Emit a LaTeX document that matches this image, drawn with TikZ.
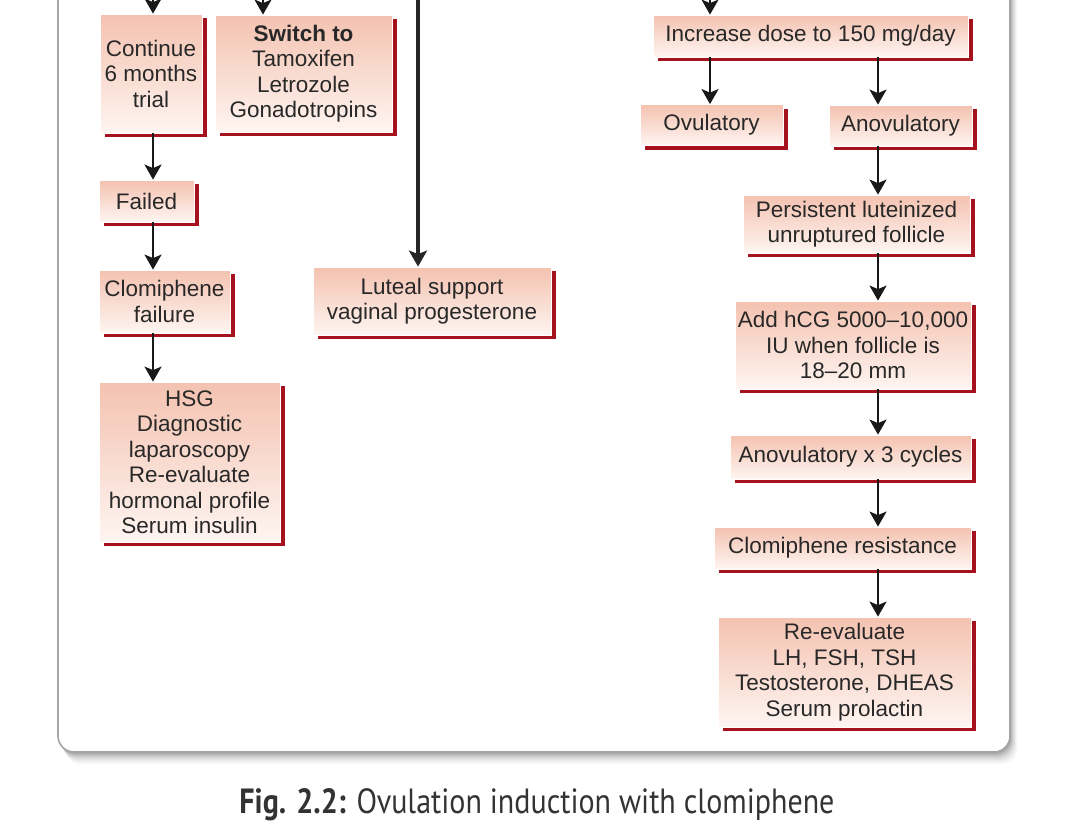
\documentclass[tikz,border=0pt]{standalone}
\usepackage{fontspec}
\setmainfont{Liberation Sans}
\newfontfamily\capfont{PT Sans}
\usetikzlibrary{arrows.meta,shadows}
\definecolor{boxtop}{RGB}{244,194,176}
\definecolor{boxbot}{RGB}{254,245,241}
\definecolor{shred}{RGB}{165,18,30}
\definecolor{txt}{RGB}{40,40,40}
\definecolor{framegray}{RGB}{165,165,165}
\tikzset{
  fbox/.style={top color=boxtop, bottom color=boxbot, draw=white, line width=0.8pt,
    inner sep=0pt, align=center, text=txt,
    font=\fontsize{22.5}{25.5}\selectfont,
    general shadow={fill=shred, shadow xshift=4.5pt, shadow yshift=-4pt}},
  arr/.style={draw=black!90, line width=2.2pt, -{Stealth[length=15pt,width=17pt,inset=3.5pt]}},
  bigarr/.style={draw=black!85, line width=3.2pt, -{Stealth[length=16pt,width=18pt,inset=3.5pt]}},
}
\begin{document}
\begin{tikzpicture}[x=1pt,y=-1pt]
\useasboundingbox (0,0) rectangle (1066,828);
\clip (0,0) rectangle (1066,828);
% frame shadow (soft)
\foreach \o/\op in {12/0.03,10/0.04,8/0.05,6/0.07,4/0.09,2/0.12}{
  \fill[black,opacity=\op,rounded corners=16pt] (58+\o*0.6,-40+\o) rectangle (1010+\o*0.6,752+\o);
}
\draw[framegray, fill=white, line width=1.6pt, rounded corners=16pt] (58,-40) rectangle (1010,752);

% column coordinates
\coordinate (cA) at (153,0);
\coordinate (cB) at (263,0);
\coordinate (cC) at (418,0);
\coordinate (cD) at (710,0);
\coordinate (cE) at (878,0);
\coordinate (tA) at (153,-5);
\coordinate (tB) at (263,-5);
\coordinate (tC) at (418,-5);
\coordinate (tD) at (710,-5);

% left column
\node[fbox, minimum width=102pt, minimum height=119pt] (cont) at (151,73.5) {Continue\\6 months\\trial};
\node[fbox, minimum width=177pt, minimum height=117pt] (switch) at (303.5,73.5) {\textbf{Switch to}\\Tamoxifen\\Letrozole\\Gonadotropins};
\node[fbox, minimum width=95pt, minimum height=42pt] (failed) at (146.5,201) {Failed};
\node[fbox, minimum width=131pt, minimum height=63pt] (cfail) at (164.5,301.5) {Clomiphene\\failure};
\node[fbox, minimum width=181pt, minimum height=160pt] (hsg) at (189.5,462) {HSG\\Diagnostic\\laparoscopy\\Re-evaluate\\hormonal profile\\Serum insulin};
\node[fbox, minimum width=238pt, minimum height=68pt] (luteal) at (432,301) {Luteal support\\vaginal progesterone};

% right column
\node[fbox, minimum width=315pt, minimum height=42pt] (inc) at (810.5,36) {Increase dose to 150 mg/day};
\node[fbox, minimum width=143pt, minimum height=41pt] (ovul) at (711.5,125) {Ovulatory};
\node[fbox, minimum width=143pt, minimum height=41pt] (anov) at (900.5,125.5) {Anovulatory};
\node[fbox, minimum width=227pt, minimum height=58pt] (pers) at (856.5,224) {Persistent luteinized\\unruptured follicle};
\node[fbox, minimum width=236pt, minimum height=88pt] (hcg) at (853,345) {Add hCG 5000--10,000\\IU when follicle is\\18--20 mm};
\node[fbox, minimum width=241pt, minimum height=44pt] (anov3) at (850.5,457) {Anovulatory x 3 cycles};
\node[fbox, minimum width=257pt, minimum height=42pt] (cres) at (842.5,548) {Clomiphene resistance};
\node[fbox, minimum width=253pt, minimum height=110pt] (reev) at (844.5,672) {Re-evaluate\\LH, FSH, TSH\\Testosterone, DHEAS\\Serum prolactin};

% arrows from above
\draw[arr] (tA) -- (cont.north -| cA);
\draw[arr] (tB) -- (switch.north -| cB);
\draw[bigarr] (tC) -- (luteal.north -| cC);
\draw[arr] (tD) -- (inc.north -| cD);

% left chain
\draw[arr] (cont.south -| cA) -- (failed.north -| cA);
\draw[arr] (failed.south -| cA) -- (cfail.north -| cA);
\draw[arr] (cfail.south -| cA) -- (hsg.north -| cA);

% right chain
\draw[arr] (inc.south -| cD) -- (ovul.north -| cD);
\draw[arr] (inc.south -| cE) -- (anov.north -| cE);
\draw[arr] (anov.south -| cE) -- (pers.north -| cE);
\draw[arr] (pers.south -| cE) -- (hcg.north -| cE);
\draw[arr] (hcg.south -| cE) -- (anov3.north -| cE);
\draw[arr] (anov3.south -| cE) -- (cres.north -| cE);
\draw[arr] (cres.south -| cE) -- (reev.north -| cE);

% caption
\node[text=black!80, inner sep=0pt, anchor=base] (cap) at (537,813)
  {\resizebox{595pt}{\height}{\capfont\fontsize{35}{38}\selectfont\textbf{Fig. 2.2:} Ovulation induction with clomiphene}};
\end{tikzpicture}
\end{document}
